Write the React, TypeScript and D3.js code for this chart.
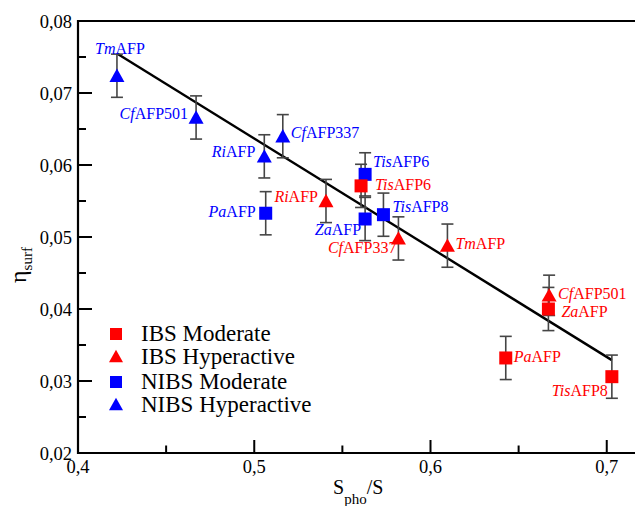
import React from "react";
import * as d3 from "d3";

// ---- data ----
const ibsModerateNames = ["TisAFP6", "ZaAFP", "PaAFP", "TisAFP8"];
const ibsModerateX = [0.5606, 0.6669, 0.6427, 0.7029];
const ibsModerateY = [0.0571, 0.04, 0.0332, 0.0306];
const ibsModerateErr = [0.003, 0.003, 0.003, 0.003];

const ibsHyperNames = ["RiAFP", "CfAFP337", "TmAFP", "CfAFP501"];
const ibsHyperX = [0.5407, 0.5818, 0.6096, 0.6673];
const ibsHyperY = [0.055, 0.0498, 0.0488, 0.0419];
const ibsHyperErr = [0.003, 0.003, 0.003, 0.0028];

const nibsModerateNames = ["PaAFP", "TisAFP6", "ZaAFP", "TisAFP8"];
const nibsModerateX = [0.5065, 0.5629, 0.5629, 0.5733];
const nibsModerateY = [0.0533, 0.0587, 0.0525, 0.0531];
const nibsModerateErr = [0.003, 0.003, 0.003, 0.003];

const nibsHyperNames = ["TmAFP", "CfAFP501", "RiAFP", "CfAFP337"];
const nibsHyperX = [0.4221, 0.467, 0.5057, 0.5162];
const nibsHyperY = [0.0724, 0.0666, 0.0612, 0.064];
const nibsHyperErr = [0.003, 0.003, 0.003, 0.003];

const fitX = [0.4221, 0.7029];
const fitY = [0.0755, 0.0329];

const xTicks = [0.4, 0.5, 0.6, 0.7];
const xTickLabels = ["0,4", "0,5", "0,6", "0,7"];
const xMinorTicks = [0.45, 0.55, 0.65];
const yTicks = [0.02, 0.03, 0.04, 0.05, 0.06, 0.07, 0.08];
const yTickLabels = ["0,02", "0,03", "0,04", "0,05", "0,06", "0,07", "0,08"];
const yMinorTicks = [0.025, 0.035, 0.045, 0.055, 0.065, 0.075];

const legendLabels = ["IBS Moderate", "IBS Hyperactive", "NIBS Moderate", "NIBS Hyperactive"];

// ---- layout / styles ----
const W = 635;
const H = 506;
const PL = 78, PT = 21, PB = 453, PR = 642;
const RED = "#ff0000";
const BLUE = "#0000ff";
const FONT = '"Liberation Serif", Tinos, "Times New Roman", Times, "DejaVu Serif", serif';

// label offsets in px: [dx, dy, anchor]
const labelLayout: Record<string, [number, number, string]> = {
  "ibsM-TisAFP6": [14, 4.5, "start"],
  "ibsM-ZaAFP": [13, 8, "start"],
  "ibsM-PaAFP": [8, 4, "start"],
  "ibsM-TisAFP8": [-4, 19.5, "end"],
  "ibsH-RiAFP": [-8, 1, "end"],
  "ibsH-CfAFP337": [-2, 15, "end"],
  "ibsH-TmAFP": [8, 3, "start"],
  "ibsH-CfAFP501": [9, 3.5, "start"],
  "nibsM-PaAFP": [-10, 4, "end"],
  "nibsM-TisAFP6": [8, -7.5, "start"],
  "nibsM-ZaAFP": [-4, 16, "end"],
  "nibsM-TisAFP8": [9, -2.5, "start"],
  "nibsH-TmAFP": [3, -22, "middle"],
  "nibsH-CfAFP501": [-8, 1.5, "end"],
  "nibsH-RiAFP": [-9, 0.5, "end"],
  "nibsH-CfAFP337": [8, 2, "start"],
};

type Pt = { key: string; name: string; x: number; y: number; err: number; shape: "sq" | "tri"; color: string };

function mk(prefix: string, names: string[], xs: number[], ys: number[], es: number[], shape: "sq" | "tri", color: string): Pt[] {
  return names.map((n, i) => ({ key: prefix + "-" + n, name: n, x: xs[i], y: ys[i], err: es[i], shape, color }));
}

const points: Pt[] = [
  ...mk("nibsH", nibsHyperNames, nibsHyperX, nibsHyperY, nibsHyperErr, "tri", BLUE),
  ...mk("nibsM", nibsModerateNames, nibsModerateX, nibsModerateY, nibsModerateErr, "sq", BLUE),
  ...mk("ibsM", ibsModerateNames, ibsModerateX, ibsModerateY, ibsModerateErr, "sq", RED),
  ...mk("ibsH", ibsHyperNames, ibsHyperX, ibsHyperY, ibsHyperErr, "tri", RED),
];

function Marker({ cx, cy, shape, color, s }: { cx: number; cy: number; shape: string; color: string; s: number }) {
  if (shape === "sq") {
    return <rect x={cx - s / 2} y={cy - s / 2} width={s} height={s} fill={color} />;
  }
  const h = s * 0.95;
  const p = `M${cx},${cy - h / 2 - 1} L${cx + s / 2 + 1},${cy + h / 2} L${cx - s / 2 - 1},${cy + h / 2} Z`;
  return <path d={p} fill={color} />;
}

function splitName(n: string): [string, string] {
  const m = n.match(/^([A-Z][a-z]*)(AFP.*)$/);
  return m ? [m[1], m[2]] : ["", n];
}

const tStyle = { fontFamily: FONT };

export default function App() {
  const x = d3.scaleLinear().domain([0.4, 0.72]).range([PL, PR]);
  const y = d3.scaleLinear().domain([0.02, 0.08]).range([PB, PT]);
  const line = d3.line<number>().x((_, i) => x(fitX[i])).y((d) => y(d));

  return (
    <svg width={W} height={H} style={{ position: "absolute", left: 0, top: 0, background: "#fff", fontFamily: FONT }}>
      <rect x={0} y={0} width={W} height={H} fill="#fff" />
      {/* ticks */}
      {xTicks.map((t) => (
        <line key={"xt" + t} x1={x(t)} x2={x(t)} y1={PB} y2={PB - 13} stroke="#000" strokeWidth={2} />
      ))}
      {xMinorTicks.map((t) => (
        <line key={"xm" + t} x1={x(t)} x2={x(t)} y1={PB} y2={PB - 7.5} stroke="#000" strokeWidth={2} />
      ))}
      {yTicks.map((t) => (
        <line key={"yt" + t} x1={PL} x2={PL + 14} y1={y(t)} y2={y(t)} stroke="#000" strokeWidth={2} />
      ))}
      {yMinorTicks.map((t) => (
        <line key={"ym" + t} x1={PL} x2={PL + 8} y1={y(t)} y2={y(t)} stroke="#000" strokeWidth={2} />
      ))}
      {/* frame */}
      <path d={`M${PR},${PT} L${PL},${PT} L${PL},${PB} L${PR},${PB}`} fill="none" stroke="#000" strokeWidth={2.2} />
      {/* tick labels */}
      {xTicks.map((t, i) => (
        <text key={"xl" + t} x={x(t)} y={PB + 20} textAnchor="middle" fontSize={18.5} style={tStyle}>
          {xTickLabels[i]}
        </text>
      ))}
      {yTicks.map((t, i) => (
        <text key={"yl" + t} x={PL - 6} y={y(t) + 6.5} textAnchor="end" fontSize={18.5} style={tStyle}>
          {yTickLabels[i]}
        </text>
      ))}
      {/* axis titles */}
      <text x={333} y={494} fontSize={20} style={tStyle}>
        S<tspan fontSize={15} dy={10}>pho</tspan>
        <tspan dy={-10}>/S</tspan>
      </text>
      <text transform="translate(26,283) rotate(-90)" fontSize={24} style={tStyle}>
        η<tspan fontSize={15} dy={6}>surf</tspan>
      </text>
      {/* fit line */}
      <path d={line(fitY) || ""} fill="none" stroke="#000" strokeWidth={2.4} />
      {/* error bars */}
      {points.map((p) => {
        const cx = x(p.x);
        const y1 = y(p.y + p.err);
        const y2 = y(p.y - p.err);
        return (
          <g key={"e" + p.key} stroke="#454545" strokeWidth={1.6}>
            <line x1={cx} x2={cx} y1={y1} y2={y2} />
            <line x1={cx - 6} x2={cx + 6} y1={y1} y2={y1} />
            <line x1={cx - 6} x2={cx + 6} y1={y2} y2={y2} />
          </g>
        );
      })}
      {/* markers */}
      {points.map((p) => (
        <Marker key={"m" + p.key} cx={x(p.x)} cy={y(p.y)} shape={p.shape} color={p.color} s={13} />
      ))}
      {/* labels */}
      {points.map((p) => {
        const [dx, dy, anchor] = labelLayout[p.key] || [8, 4, "start"];
        const [it, rest] = splitName(p.name);
        return (
          <text key={"l" + p.key} x={x(p.x) + dx} y={y(p.y) + dy} fill={p.color} fontSize={16} textAnchor={anchor} style={tStyle}>
            <tspan fontStyle="italic">{it}</tspan>
            <tspan>{rest}</tspan>
          </text>
        );
      })}
      {/* legend */}
      {legendLabels.map((l, i) => {
        const base = [341, 363.5, 389, 411.5][i];
        const color = i < 2 ? RED : BLUE;
        const shape = i % 2 === 0 ? "sq" : "tri";
        return (
          <g key={"lg" + i}>
            <Marker cx={116} cy={base - 7} shape={shape} color={color} s={12} />
            <text x={141} y={base} fontSize={23} style={tStyle}>
              {l}
            </text>
          </g>
        );
      })}
    </svg>
  );
}
